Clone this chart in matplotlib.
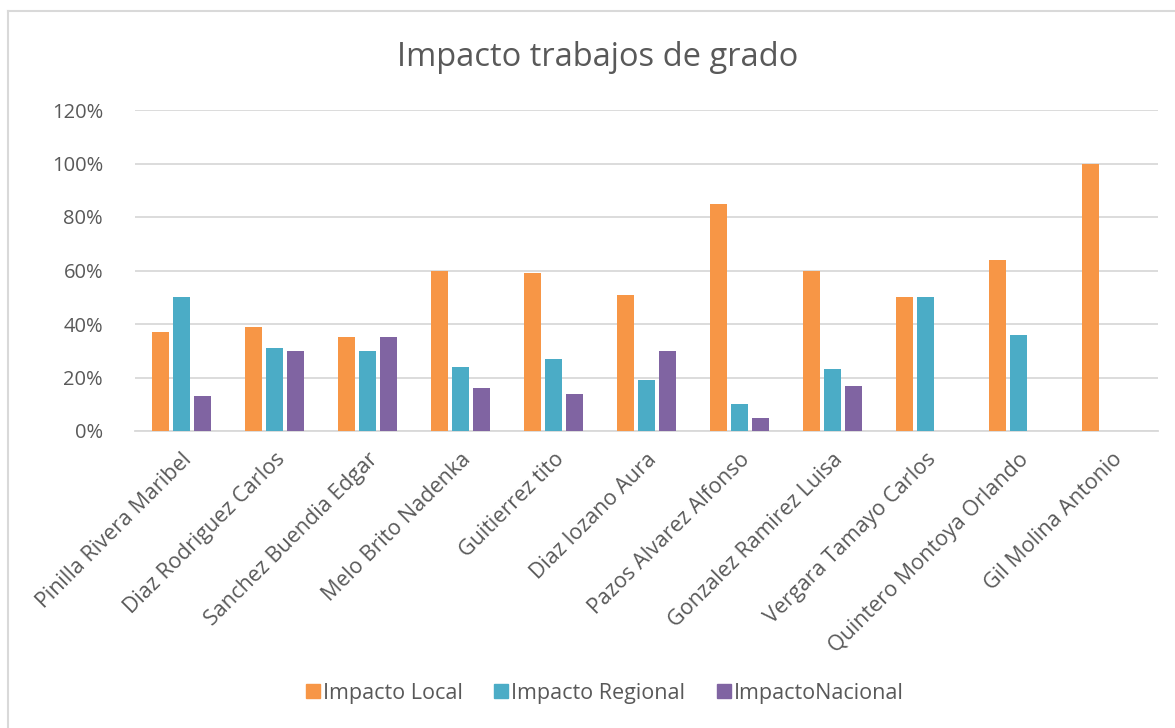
import matplotlib.pyplot as plt
import numpy as np
from matplotlib.lines import Line2D

plt.rcParams['font.family'] = ['Open Sans', 'DejaVu Sans']

categories = ['Pinilla Rivera Maribel', 'Diaz Rodriguez Carlos', 'Sanchez Buendia Edgar',
              'Melo Brito Nadenka', 'Guitierrez tito', 'Diaz lozano Aura',
              'Pazos Alvarez Alfonso', 'Gonzalez Ramirez Luisa', 'Vergara Tamayo Carlos',
              'Quintero Montoya Orlando', 'Gil Molina Antonio']
local = [37, 39, 35, 60, 59, 51, 85, 60, 50, 64, 100]
regional = [50, 31, 30, 24, 27, 19, 10, 23, 50, 36, 0]
nacional = [13, 30, 35, 16, 14, 30, 5, 17, 0, 0, 0]
series = [('Impacto Local', local, '#F79646'),
          ('Impacto Regional', regional, '#4BACC6'),
          ('ImpactoNacional', nacional, '#8064A2')]

text_color = '#595959'
fig = plt.figure(figsize=(11.75, 7.28), dpi=100)
ax = fig.add_axes([135/1175, 297/728, 1023/1175, 321/728])

x = np.arange(len(categories))
w = 0.183
step = 0.226
for i, (name, vals, col) in enumerate(series):
    ax.bar(x + (i - 1) * step, vals, width=w, color=col, label=name, zorder=3)

ax.set_xlim(-0.5, len(categories) - 0.5)
ax.set_ylim(0, 120)
ax.set_yticks(range(0, 121, 20))
ax.set_yticklabels([f'{v}%' for v in range(0, 121, 20)])
ax.yaxis.grid(True, color='#D9D9D9', linewidth=1.3, zorder=0)
ax.set_axisbelow(True)
for s in ['top', 'right', 'left']:
    ax.spines[s].set_visible(False)
ax.spines['bottom'].set_color('#D9D9D9')
ax.spines['bottom'].set_linewidth(1.3)
ax.tick_params(axis='y', length=0, pad=23, labelsize=14.5, labelcolor=text_color)
ax.tick_params(axis='x', length=0, pad=13, labelsize=15.5, labelcolor=text_color)
ax.set_xticks(x)
ax.set_xticklabels(categories, rotation=45, ha='right', va='top', rotation_mode='anchor')

fig.text(598/1175, 1 - 57/728, 'Impacto trabajos de grado', ha='center', va='center',
         fontsize=23.5, color=text_color)

handles = [Line2D([], [], marker='s', linestyle='none', markersize=10,
                  markerfacecolor=c, markeredgecolor=c) for _, _, c in series]
fig.legend(handles, [n for n, _, _ in series], loc='center', bbox_to_anchor=(604/1175, 1 - 693/728),
           ncol=3, frameon=False, fontsize=15.5, labelcolor=text_color,
           handletextpad=0.05, columnspacing=1.4, handlelength=0.8)

fig.add_artist(Line2D([8/1175, 8/1175], [0, 1 - 11/728], color='#D9D9D9', linewidth=1.5,
                      transform=fig.transFigure))
fig.add_artist(Line2D([8/1175, 1], [1 - 11/728, 1 - 11/728], color='#D9D9D9', linewidth=1.5,
                      transform=fig.transFigure))

fig.savefig('out.png', dpi=100)
